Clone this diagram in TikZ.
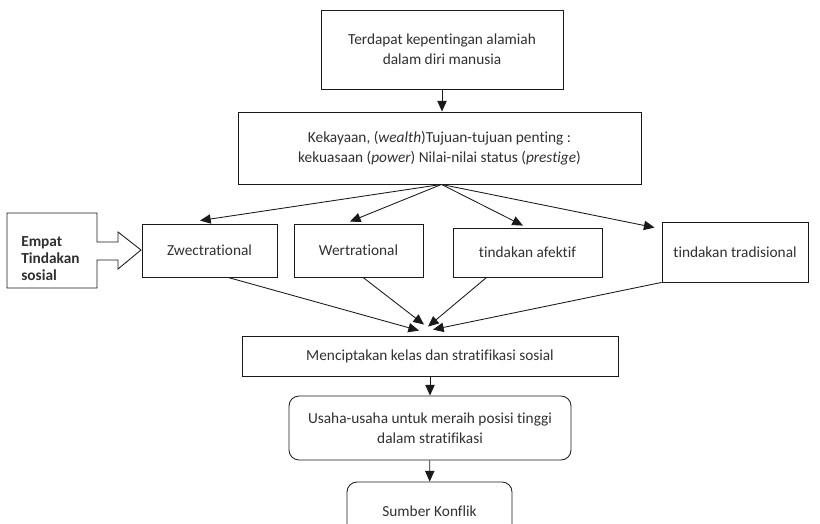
\documentclass[tikz,border=0pt]{standalone}
\usepackage{fontspec}
\setmainfont{Carlito}[Ligatures=NoCommon]
\usepackage{xcolor}
\usetikzlibrary{arrows.meta,positioning}
\definecolor{flowline}{HTML}{1A1A1A}
\definecolor{flowtext}{HTML}{303030}

\begin{document}
\begin{tikzpicture}[
  x=0.75pt,y=-0.75pt,
  base/.style={draw=flowline,line width=0.65pt,align=center,inner sep=2pt,text=flowtext,font=\fontsize{11.5}{15}\selectfont},
  box/.style={base},
  roundbox/.style={base,rounded corners=7.5pt},
  arr/.style={-{Triangle[length=8pt,width=7pt]},line width=0.65pt,draw=flowline}
]
\useasboundingbox (0,0) rectangle (820,524);

\node[box,minimum width=181.5pt,minimum height=59.25pt] (ideas) at (442,49.5) {Terdapat kepentingan alamiah\\dalam diri manusia};
\node[box,minimum width=302.25pt,minimum height=54pt] (goals) at (439.5,148) {Kekayaan, (\textit{wealth})Tujuan-tujuan penting :\\kekuasaan (\textit{power}) Nilai-nilai status (\textit{prestige})};
\draw[arr] (ideas.south) -- (ideas.south |- goals.north);

% empat tindakan sosial
\node[box,minimum width=101.25pt,minimum height=39.75pt] (zwec) at (209.5,250.5) {Zwectrational};
\node[box,minimum width=96.75pt,minimum height=39.75pt] (wert) at (358.5,250.5) {Wertrational};
\node[box,minimum width=111.75pt,minimum height=36.75pt] (afektif) at (527.5,252.5) {tindakan afektif};
\node[box,minimum width=109.5pt,minimum height=45pt] (trad) at (735,252) {tindakan tradisional};

\draw[draw=flowline,line width=0.65pt] (7,213) -- (97,213) -- (97,242) -- (118,242) -- (118,232) -- (141,250)
  -- (118,269) -- (118,260) -- (97,260) -- (97,288) -- (7,288) -- cycle;
\node[anchor=west,inner sep=0pt,align=left,text=flowtext,font=\fontsize{11.5}{12.75}\selectfont\bfseries] (empat) at (21,258.5) {Empat\\Tindakan\\sosial};

\coordinate (split) at ([xshift=1.5pt]goals.south);
\draw[arr] (split) -- ([xshift=-7.1pt,yshift=2.25pt]zwec.north);
\draw[arr] (split) -- ([xshift=-6.4pt,yshift=1.5pt]wert.north);
\draw[arr] (split) -- ([xshift=-3.4pt,yshift=1.5pt]afektif.north);
\draw[arr] (split) -- ([xshift=-5.25pt,yshift=-4.5pt]trad.north west);

\node[box,minimum width=282pt,minimum height=30pt] (classes) at (430,356) {Menciptakan kelas dan stratifikasi sosial};
\draw[arr] ([xshift=13.9pt]zwec.south) -- ([xshift=-8.25pt,yshift=3.75pt]classes.north);
\draw[arr] ([xshift=3.4pt]wert.south) -- ([xshift=-4.5pt,yshift=8.25pt]classes.north);
\draw[arr] ([xshift=25.5pt]afektif.south west) -- ([xshift=-1.5pt,yshift=6.75pt]classes.north);
\draw[arr] (trad.south west) -- ([xshift=2.25pt,yshift=4.5pt]classes.north);

\node[roundbox,minimum width=211.5pt,minimum height=48pt] (effort) at (430,428) {Usaha-usaha untuk meraih posisi tinggi\\dalam stratifikasi};
\node[roundbox,minimum width=123.75pt,minimum height=43.5pt] (conflict) at (429.5,511) {Sumber Konflik};
\draw[arr] (classes) -- (effort);
\draw[arr] (effort) -- (conflict);
\end{tikzpicture}
\end{document}
